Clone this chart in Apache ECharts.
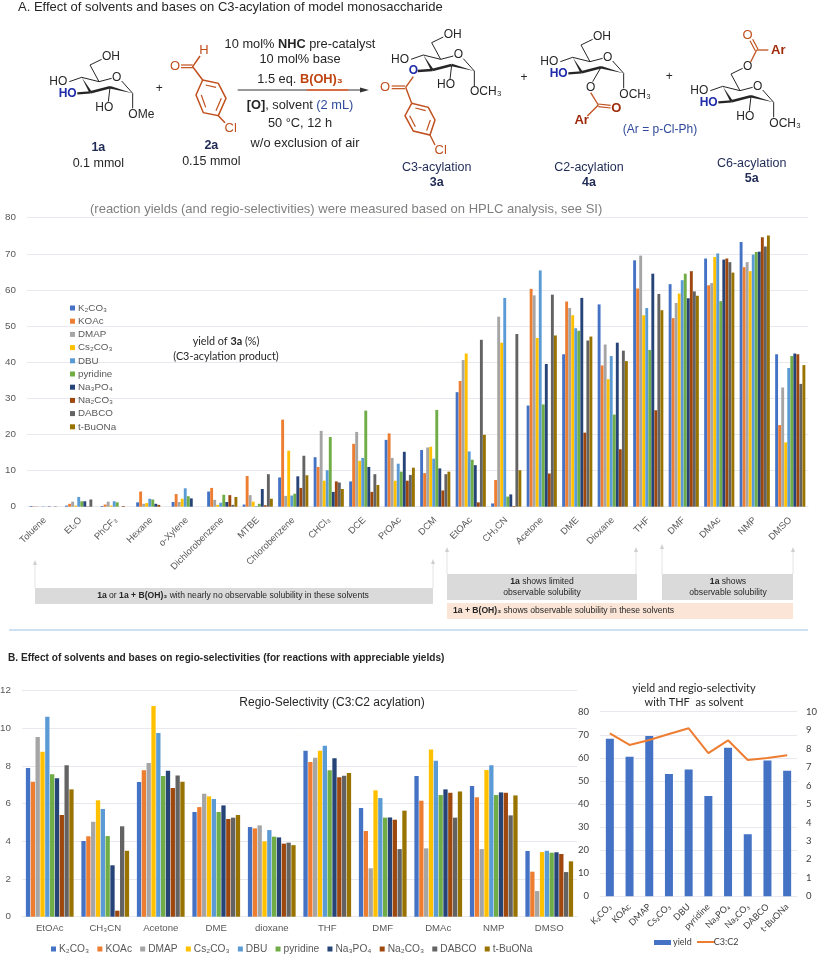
<!DOCTYPE html>
<html><head><meta charset="utf-8">
<script src="https://cdn.jsdelivr.net/npm/echarts@6/dist/echarts.min.js"></script>
<style>html,body{margin:0;padding:0;background:#fff}#c{width:817px;height:955px}</style>
</head><body><div id="c"></div>
<script>
const bases=["K₂CO₃","KOAc","DMAP","Cs₂CO₃","DBU","pyridine","Na₃PO₄","Na₂CO₃","DABCO","t-BuONa"];
const colors=["#4472C4","#ED7D31","#A5A5A5","#FFC000","#5B9BD5","#70AD47","#264478","#9E480E","#636363","#997300"];
const solventsA=["Toluene","Et₂O","PhCF₃","Hexane","o-Xylene","Dichlorobenzene","MTBE","Chlorobenzene","CHCl₃","DCE","PrOAc","DCM","EtOAc","CH₃CN","Acetone","DME","Dioxane","THF","DMF","DMAc","NMP","DMSO"];
const yToluene=[.2,.1,.1,0,.1,0,.1,0,.1,0];
const yEt2O=[.3,.8,1.4,.3,2.7,1.5,1.5,.1,2,0];
const yPhCF3=[.2,.6,1.4,.3,1.5,1.2,0,.2,0,0];
const yHexane=[1.2,4.2,.8,1,2.2,2,.8,.5,0,0];
const yXylene=[1.3,3.5,1.3,2.2,5.1,2.9,2.3,0,0,0];
const yDichloro=[4.2,5.2,1.9,.5,1.1,3.3,1.3,3.2,.5,2.7];
const yMTBE=[.6,8.5,3.2,1.4,.2,.8,4.9,.4,9,2.2];
const yChloro=[8.1,24.1,3,15.5,3.1,3.6,8.4,5.2,14.1,8.7];
const yCHCl3=[13.7,11,21,7.2,10.1,19.3,4.1,7,6.7,4.9];
const yDCE=[7,17.4,20.7,12.7,13.5,26.6,11,4.1,9,6];
const yPrOAc=[18.5,20.3,13.5,7.2,11.9,9.7,15.2,7.2,8.8,10.8];
const yDCM=[15.7,9.3,16.4,16.6,13.3,26.8,10.6,4.5,9,9.7];
const yEtOAc=[31.7,34.8,40.6,42.4,15.3,13,11.5,1.2,46.2,19.9];
const yCH3CN=[.9,7.4,52.6,45.4,57.8,2.8,3.4,.2,47.8,10.1];
const yAcetone=[28,60.3,58.5,46.7,65.4,28.3,39.5,9.2,58.7,47.4];
const yDME=[42.2,56.8,55,53,49.4,48.7,57.8,20.5,46,47.1];
const yDioxane=[56,39.1,44.9,35.3,41.7,25.5,45.4,15.9,43.2,40.3];
const yTHF=[68.2,60.4,69.5,53,55,43.4,64.5,26.7,58.9,54.4];
const yDMF=[61.6,52.2,56.4,59,62.7,64.5,57.7,65.2,59.6,58.4];
const yDMAc=[68.7,61.3,61.9,69.1,70.1,56.9,68.4,68.7,67.7,64.8];
const yNMP=[73.3,66.3,67.7,65.2,69.8,70.5,70.6,74.6,72,75.1];
const yDMSO=[42.2,22.6,33,17.8,38.4,41.7,42.4,42.2,34,39.2];
const yieldGroups=[yToluene,yEt2O,yPhCF3,yHexane,yXylene,yDichloro,yMTBE,yChloro,yCHCl3,yDCE,yPrOAc,yDCM,yEtOAc,yCH3CN,yAcetone,yDME,yDioxane,yTHF,yDMF,yDMAc,yNMP,yDMSO];

const solventsB=["EtOAc","CH₃CN","Acetone","DME","dioxane","THF","DMF","DMAc","NMP","DMSO"];
const rEtOAc=[7.9,7.17,9.54,8.76,10.62,7.56,7.35,5.4,8.04,6.76];
const rCH3CN=[4.02,4.27,5.04,6.18,5.72,4.28,2.73,.32,4.8,3.5];
const rAcetone=[7.15,7.77,8.16,11.19,9.75,7.47,7.75,6.83,7.5,7.17];
const rDME=[5.56,5.82,6.53,6.39,6.25,5.56,5.91,5.19,5.26,5.4];
const rDioxane=[4.76,4.69,4.85,4,4.6,4.25,4.21,3.88,3.93,3.8];
const rTHF=[8.81,8.21,8.44,8.81,9.08,7.77,8.41,7.4,7.49,7.63];
const rDMF=[5.77,4.55,2.57,6.71,6.3,5.26,5.27,5.15,3.59,5.63];
const rDMAc=[7.47,6.16,3.63,8.88,8.28,6.46,6.76,6.58,5.26,6.65];
const rNMP=[6.94,6.34,3.59,7.79,8.04,6.46,6.6,6.58,5.38,6.44];
const rDMSO=[3.49,2.39,1.36,3.43,3.5,3.4,3.42,3.33,2.37,2.94];
const regioGroups=[rEtOAc,rCH3CN,rAcetone,rDME,rDioxane,rTHF,rDMF,rDMAc,rNMP,rDMSO];

const thfYield=[68.3,60.5,69.5,53,55,43.5,64.4,26.9,58.8,54.4];
const thfRatio=[8.83,8.2,8.47,8.79,9.1,7.76,8.45,7.38,7.49,7.64];

// ---------- scheme drawing (decoration, not data) ----------
const SANS='"Liberation Sans"';
const INK='#262626', RUST='#C0501E', DARKRED='#9E2A0B', BLUE='#1F2BA8', NAVY='#2F4A9A';
const gfx=[];
const k=1/3;
function T(x,y,text,o={}){gfx.push({type:'text',silent:true,x:x,y:y,style:{text:text,fill:o.fill||INK,font:(o.bold?'bold ':'')+(o.size||12)+'px '+(o.family||SANS),align:o.align||'center',verticalAlign:'middle'}});}
function L(pts,color,w){gfx.push({type:'polyline',silent:true,shape:{points:pts.map(p=>[p[0]*k,p[1]*k])},style:{stroke:color||INK,lineWidth:w||1,fill:null}});}
function W(a,b,hw,color){
  const dx=b[0]-a[0],dy=b[1]-a[1],n=Math.hypot(dx,dy),nx=-dy/n*hw,ny=dx/n*hw;
  gfx.push({type:'polygon',silent:true,shape:{points:[[a[0]*k,a[1]*k],[(b[0]+nx)*k,(b[1]+ny)*k],[(b[0]-nx)*k,(b[1]-ny)*k]]},style:{fill:color||INK}});
}
function sugar(dx,dy,o){
  const P=(x,y)=>[x+dx,y+dy], t=(x,y,s,op)=>T((x+dx)*k,(y+dy)*k,s,op);
  L([P(208,245),P(245,232),P(297,245),P(335,235)]);
  L([P(365,243),P(398,280)]);
  if(o.c6Acyl){ L([P(297,245),P(270,195),P(305,178)]); t(320,172,'O'); }
  else { L([P(297,245),P(270,195),P(305,178)]); t(333,170,'OH'); }
  W(P(245,232),P(272,277),4); W(P(398,280),P(330,262),4);
  L([P(272,277),P(330,262)],INK,2.6);
  t(350,232,'O');
  t(175,245,'HO');
  if(o.c3Acyl){ L([P(272,277),P(228,280)],INK,2.4); t(215,280,'O',{bold:true,fill:BLUE}); }
  else { L([P(272,277),P(232,280)],INK,2.4); t(203,281,'HO',{bold:true,fill:BLUE}); }
  if(o.c2Acyl){ L([P(330,262),P(305,305)]); t(299,322,'O'); }
  else { L([P(330,262),P(325,305)]); t(313,322,'HO'); }
  L([P(398,280),P(398,325)]);
  gfx.push({type:'text',silent:true,x:(385+dx)*k,y:(343+dy)*k,style:{text:o.me,fill:INK,font:'12px '+SANS,align:'left',verticalAlign:'middle'}});
}
// 1a
sugar(0,0,{me:'OMe'});
T(295*k,443*k,'1a',{bold:true,size:12.5,fill:'#1F2A55'});
T(295*k,490*k,'0.1 mmol',{size:12.5});
T(478*k,267*k,'+',{size:12});
// 2a
const r2=[[608,240],[655,250],[678,295],[655,347],[610,338],[588,285]];
L(r2.concat([r2[0]]),RUST,1.5);
L([[617,255],[648,262]],RUST,1.2);L([[664,295],[648,332]],RUST,1.2);L([[604,285],[617,322]],RUST,1.2);
L([[608,240],[578,200],[600,168]],RUST,1.5);
L([[578,195],[543,195]],RUST,1.2);L([[578,203],[543,203]],RUST,1.2);
T(525*k,198*k,'O',{fill:RUST,size:13});
T(612*k,150*k,'H',{fill:RUST,size:13});
L([[655,347],[675,368]],RUST,1.5);
T(692*k,384*k,'Cl',{fill:RUST,size:13});
T(634*k,438*k,'2a',{bold:true,size:12.5,fill:'#1F2A55'});
T(634*k,485*k,'0.15 mmol',{size:12.5});
// reagents
gfx.push({type:'text',silent:true,x:300,y:44,style:{text:'{a|10 mol% }{b|NHC}{a| pre-catalyst}',align:'center',verticalAlign:'middle',rich:{a:{font:'12.8px '+SANS,fill:INK},b:{font:'bold 12.8px '+SANS,fill:INK}}}});
T(300,59.5,'10 mol% base',{size:12.8});
gfx.push({type:'text',silent:true,x:300,y:79,style:{text:'{a|1.5 eq. }{b|B(OH)₃}',align:'center',verticalAlign:'middle',rich:{a:{font:'12.8px '+SANS,fill:INK},b:{font:'bold 12.8px '+SANS,fill:'#C0440F'}}}});
L([[713,270],[1090,270]],'#333',1);
L([[920,270],[1045,270]],'#E8622A',1.3);
gfx.push({type:'polygon',silent:true,shape:{points:[[369,90],[360,87.5],[360,92.5]]},style:{fill:'#333'}});
gfx.push({type:'text',silent:true,x:300,y:105,style:{text:'{b|[O]}{a|, solvent }{c|(2 mL)}',align:'center',verticalAlign:'middle',rich:{a:{font:'12.8px '+SANS,fill:INK},b:{font:'bold 12.8px '+SANS,fill:INK},c:{font:'12.8px '+SANS,fill:NAVY}}}});
T(300,123,'50 °C, 12 h',{size:12.8});
T(305,143,'w/o exclusion of air',{size:12.8});
// 3a
sugar(1025,-67,{me:'OCH₃',c3Acyl:true});
L([[1240,230],[1217,262]],RUST,1.4);
L([[1215,258],[1175,258]],RUST,1.2);L([[1215,266],[1175,266]],RUST,1.2);
T(1155*k,262*k,'O',{fill:RUST,size:13});
const r3=[[1235,310],[1285,322],[1305,360],[1290,405],[1240,393],[1215,347]];
L([[1217,262],[1235,310]],RUST,1.4);
L(r3.concat([r3[0]]),RUST,1.5);
L([[1246,324],[1277,332]],RUST,1.2);L([[1291,360],[1280,392]],RUST,1.2);L([[1229,347],[1246,380]],RUST,1.2);
L([[1290,405],[1305,435]],RUST,1.4);
T(1322*k,452*k,'Cl',{fill:RUST,size:13});
T(1310*k,502*k,'C3-acylation',{size:12.5,fill:'#1F2A55'});
T(1310*k,547*k,'3a',{bold:true,size:12.5,fill:'#1F2A55'});
T(1572*k,232*k,'+',{size:12});
// 4a
sugar(1473,-60,{me:'OCH₃',c2Acyl:true});
L([[1772,278],[1795,315]],RUST,1.3);
L([[1795,312],[1832,316]],RUST,1.2);L([[1795,320],[1832,324]],RUST,1.2);
L([[1795,315],[1762,348]],RUST,1.3);
T(1849*k,325*k,'O',{bold:true,fill:DARKRED,size:13});
T(1745*k,360*k,'Ar',{bold:true,fill:DARKRED,size:13});
T(1980*k,390*k,'(Ar = p-Cl-Ph)',{size:12,fill:NAVY});
T(1767*k,502*k,'C2-acylation',{size:12.5,fill:'#1F2A55'});
T(1767*k,547*k,'4a',{bold:true,size:12.5,fill:'#1F2A55'});
T(2008*k,230*k,'+',{size:12});
// 5a
sugar(1923,27,{me:'OCH₃',c6Acyl:true});
L([[2252,186],[2270,150]],RUST,1.3);
L([[2266,152],[2250,122]],RUST,1.2);L([[2274,148],[2258,118]],RUST,1.2);
L([[2270,150],[2305,150]],RUST,1.3);
T(2243*k,105*k,'O',{fill:RUST,size:13});
T(2335*k,150*k,'Ar',{bold:true,fill:DARKRED,size:13});
T(2255*k,490*k,'C6-acylation',{size:12.5,fill:'#1F2A55'});
T(2255*k,535*k,'5a',{bold:true,size:12.5,fill:'#1F2A55'});

// headings / notes
gfx.push({type:'text',silent:true,x:18,y:7,style:{text:'A. Effect of solvents and bases on C3-acylation of model monosaccharide',font:'13px '+SANS,fill:INK,align:'left',verticalAlign:'middle'}});
gfx.push({type:'text',silent:true,x:90,y:209,style:{text:'(reaction yields (and regio-selectivities) were measured based on HPLC analysis, see SI)',font:'13px '+SANS,fill:'#7F7F7F',align:'left',verticalAlign:'middle'}});
gfx.push({type:'text',silent:true,x:226,y:342,style:{text:'{a|yield of }{b|3a}{a| (%)}',align:'center',verticalAlign:'middle',rich:{a:{font:'10.8px Lato',fill:INK},b:{font:'bold 10.8px Lato',fill:INK}}}});
T(226,357,'(C3-acylation product)',{size:10.8,family:'Lato'});
gfx.push({type:'text',silent:true,x:8,y:658,style:{text:'B. Effect of solvents and bases on regio-selectivities (for reactions with appreciable yields)',font:'bold 10.1px '+SANS,fill:INK,align:'left',verticalAlign:'middle'}});
T(332,703,'Regio-Selectivity (C3:C2 acylation)',{size:12});
T(694,688,'yield and regio-selectivity',{size:11,family:'Lato'});
T(694,702,'with THF  as solvent',{size:11,family:'Lato'});
// solubility boxes
function box(x,y,w,h,f){gfx.push({type:'rect',silent:true,shape:{x,y,width:w,height:h},style:{fill:f}});}
function arrow(x,y0,y1){gfx.push({type:'line',silent:true,shape:{x1:x,y1:y0,x2:x,y2:y1},style:{stroke:'#E4E4E4',lineWidth:1}});gfx.push({type:'polygon',silent:true,shape:{points:[[x,y1-4],[x-2,y1+1],[x+2,y1+1]]},style:{fill:'#CFCFCF'}});}
arrow(35,588,564);arrow(433,588,563);arrow(447,574,551);arrow(636,574,551);arrow(662,574,548);arrow(793,574,551);
box(35,588,398,16,'#DADADA');box(447,574,190,26,'#DADADA');box(662,574,131,26,'#DADADA');box(447,603,346,16,'#FBE5D6');
const sr={a:{font:'8.6px '+SANS,fill:INK},b:{font:'bold 8.6px '+SANS,fill:INK}};
gfx.push({type:'text',silent:true,x:233,y:596,style:{text:'{b|1a}{a| or }{b|1a + B(OH)₃}{a| with nearly no observable solubility in these solvents}',align:'center',verticalAlign:'middle',rich:sr}});
gfx.push({type:'text',silent:true,x:542,y:582,style:{text:'{b|1a}{a| shows limited}',align:'center',verticalAlign:'middle',rich:sr}});
T(542,592.5,'observable solubility',{size:8.6});
gfx.push({type:'text',silent:true,x:728,y:582,style:{text:'{b|1a}{a| shows}',align:'center',verticalAlign:'middle',rich:sr}});
T(728,592.5,'observable solubility',{size:8.6});
gfx.push({type:'text',silent:true,x:453,y:611,style:{text:'{b|1a + B(OH)₃}{a| shows observable solubility in these solvents}',align:'left',verticalAlign:'middle',rich:sr}});
gfx.push({type:'line',silent:true,shape:{x1:9,y1:630,x2:808,y2:630},style:{stroke:'#9DC3E6',lineWidth:1}});
gfx.push({type:'line',silent:true,shape:{x1:697,y1:942,x2:715,y2:942},style:{stroke:'#ED7D31',lineWidth:2}});

// ---------- chart ----------
const GRID='#E8E8EE', LBL='#595959';
const valAxis=(g,max,interval,extra)=>Object.assign({type:'value',gridIndex:g,min:0,max,interval,axisLine:{show:false},axisTick:{show:false},axisLabel:{color:LBL,fontSize:9.8,fontFamily:SANS,margin:11},splitLine:{lineStyle:{color:GRID,width:1}}},extra||{});
const catAxis=(g,data,extra)=>Object.assign({type:'category',gridIndex:g,data,axisLine:{lineStyle:{color:GRID}},axisTick:{show:false}},extra||{});
const series=[];
bases.forEach((b,i)=>series.push({name:b,type:'bar',xAxisIndex:0,yAxisIndex:0,barCategoryGap:'15%',barGap:'5%',itemStyle:{color:colors[i]},data:yieldGroups.map(r=>r[i])}));
bases.forEach((b,i)=>series.push({name:b,type:'bar',xAxisIndex:1,yAxisIndex:1,barCategoryGap:'14%',barGap:'12%',itemStyle:{color:colors[i]},data:regioGroups.map(r=>r[i])}));
series.push({name:'yield',type:'bar',xAxisIndex:2,yAxisIndex:2,barWidth:8,itemStyle:{color:'#4472C4'},data:thfYield});
series.push({name:'C3:C2',type:'line',xAxisIndex:2,yAxisIndex:3,symbol:'none',lineStyle:{color:'#ED7D31',width:2},itemStyle:{color:'#ED7D31'},data:thfRatio});
const chart=echarts.init(document.getElementById('c'),null,{renderer:'canvas'});
chart.setOption({
  animation:false,backgroundColor:'#fff',
  grid:[{left:27,top:217.7,width:781,height:289,outerBoundsMode:'none'},{left:22,top:690.7,width:555,height:226,outerBoundsMode:'none'},{left:600,top:711.7,width:197,height:184.6,outerBoundsMode:'none'}],
  xAxis:[catAxis(0,solventsA,{axisLabel:{color:LBL,fontSize:9.4,fontFamily:SANS,interval:0,rotate:45,margin:12}}),
         catAxis(1,solventsB,{axisLabel:{color:LBL,fontSize:9.6,fontFamily:SANS,interval:0,margin:7}}),
         catAxis(2,bases,{axisLabel:{color:'#404040',fontSize:9,fontFamily:'Lato',interval:0,rotate:45,margin:9}})],
  yAxis:[valAxis(0,80,10),valAxis(1,12,2),
         valAxis(2,80,10,{axisLabel:{color:'#404040',fontSize:9.5,fontFamily:'Lato',margin:11}}),
         valAxis(2,10,1,{position:'right',splitLine:{show:false},axisLabel:{color:'#404040',fontSize:9.5,fontFamily:'Lato',margin:9}})],
  legend:[
    {orient:'vertical',left:65,top:298,itemWidth:5,itemHeight:5,itemGap:3.2,icon:'rect',data:bases,textStyle:{color:LBL,fontSize:9.8,fontFamily:SANS,padding:[0,0,0,-2]}},
    {orient:'horizontal',left:46,top:939,itemWidth:5,itemHeight:5,itemGap:8.2,icon:'rect',data:bases,textStyle:{color:LBL,fontSize:10.2,fontFamily:SANS,padding:[0,0,0,-2]}},
    {orient:'horizontal',left:649,top:933,itemWidth:17,itemHeight:5,itemGap:3,data:[{name:'yield',icon:'rect'},{name:'C3:C2',icon:'none'}],textStyle:{color:'#404040',fontSize:9,fontFamily:'Lato',padding:[0,0,0,-3]}}
  ],
  series,graphic:{elements:gfx}
});
</script></body></html>
